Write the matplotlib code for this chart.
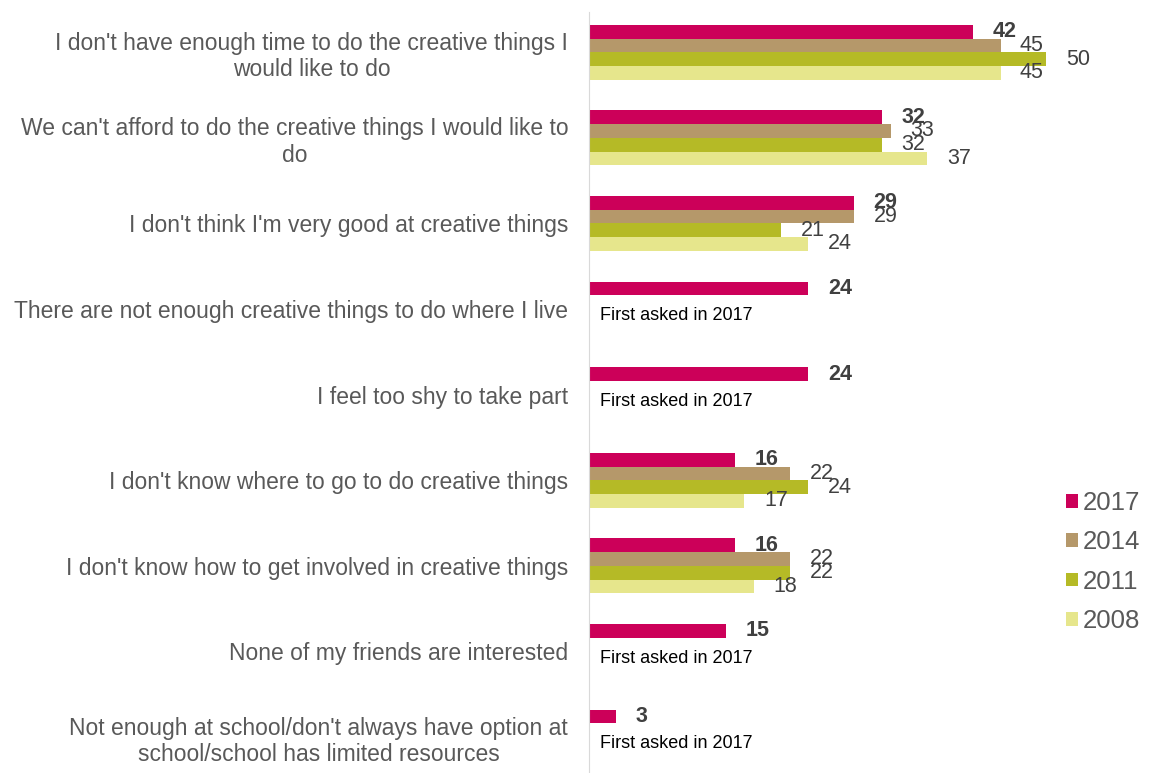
import matplotlib.pyplot as plt
import numpy as np

plt.rcParams['font.family'] = ['Liberation Sans', 'DejaVu Sans']

categories = [
    "I don't have enough time to do the creative things I\nwould like to do",
    "We can't afford to do the creative things I would like to\ndo",
    "I don't think I'm very good at creative things",
    "There are not enough creative things to do where I live",
    "I feel too shy to take part",
    "I don't know where to go to do creative things",
    "I don't know how to get involved in creative things",
    "None of my friends are interested",
    "Not enough at school/don't always have option at\nschool/school has limited resources",
]
years = ['2017', '2014', '2011', '2008']
v2017 = [42, 32, 29, 24, 24, 16, 16, 15, 3]
v2014 = [45, 33, 29, None, None, 22, 22, None, None]
v2011 = [50, 32, 21, None, None, 24, 22, None, None]
v2008 = [45, 37, 24, None, None, 17, 18, None, None]
series = [v2017, v2014, v2011, v2008]
colors = ['#CC0059', '#B5986A', '#B5BA26', '#E6E68C']
note = 'First asked in 2017'

fig = plt.figure(figsize=(11.52, 7.73), dpi=100)
ax = fig.add_axes([589 / 1152, 0, 471 / 1152, 761 / 773])

bh = 0.16
offsets = [-0.24, -0.08, 0.08, 0.24]
y = np.arange(len(categories))

for k, (vals, col, yr) in enumerate(zip(series, colors, years)):
    for i, v in enumerate(vals):
        if v is None:
            continue
        yy = y[i] + offsets[k]
        ax.barh(yy, v, height=bh, color=col, label=yr if i == 0 else None)
        ax.annotate(str(v), (v, yy), xytext=(14, 0), textcoords='offset points',
                    va='center', ha='left', fontsize=15.5, color='#404040',
                    fontweight='bold' if k == 0 else 'normal')

for i in range(len(categories)):
    if v2014[i] is None:
        ax.text(1.2, y[i] + 0.08, note, va='center', ha='left', fontsize=13, color='#000000')

ax.set_yticks(y)
ax.set_yticklabels(categories, fontsize=16.5, color='#595959', linespacing=1.2,
                   multialignment='center')
ax.tick_params(axis='y', length=0, pad=15)
ax.set_ylim(8.42, -0.47)
ax.set_xlim(0, 51.5)
ax.set_xticks([])
for s in ['top', 'right', 'bottom']:
    ax.spines[s].set_visible(False)
ax.spines['left'].set_color('#D9D9D9')

handles, labels = ax.get_legend_handles_labels()
fig.legend(handles, labels, loc='center left', bbox_to_anchor=(1043 / 1152, 1 - 562 / 773),
           frameon=False, fontsize=18.5, labelcolor='#595959', handlelength=0.45, handleheight=0.45,
           handletextpad=0.2, labelspacing=0.6)

fig.savefig('out.png', dpi=100)
